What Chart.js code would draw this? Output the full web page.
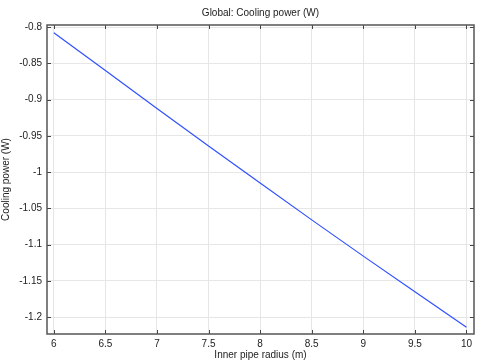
<!DOCTYPE html>
<html>
<head>
<meta charset="utf-8">
<script src="https://cdn.jsdelivr.net/npm/chart.js@4"></script>
<style>
  html, body { margin: 0; padding: 0; background: #fff; }
  #wrap { width: 483px; height: 361px; }
</style>
</head>
<body>
<div id="wrap"><canvas id="myChart" width="483" height="361"></canvas></div>
<script>
// values
var radius = [6, 6.5, 7, 7.5, 8, 8.5, 9, 9.5, 10];
var coolingPower = [-0.808, -0.860, -0.9125, -0.964, -1.015, -1.066, -1.116, -1.165, -1.214];
var xTicks = [6, 6.5, 7, 7.5, 8, 8.5, 9, 9.5, 10];
var yTicks = [-0.8, -0.85, -0.9, -0.95, -1, -1.05, -1.1, -1.15, -1.2];
var chartTitle = "Global: Cooling power (W)";

var fontFamily = "'Liberation Sans', Arial, sans-serif";

function toPoints(xs, ys) {
  return xs.map(function (x, i) {
    return { x: x, y: ys[i] };
  });
}

function fmt(v) {
  return Number(v.toFixed(3)).toString();
}

// frame, inward tick marks and the title over the plot area
var framePlugin = {
  id: "frame",
  afterDraw: function (chart) {
    var ctx = chart.ctx;
    var a = chart.chartArea;
    var xs = chart.scales.x;
    var ys = chart.scales.y;
    ctx.save();
    ctx.strokeStyle = "#444";
    ctx.lineWidth = 1;
    xTicks.forEach(function (t) {
      var px = Math.round(xs.getPixelForValue(t)) + 0.5;
      ctx.beginPath();
      ctx.moveTo(px, a.bottom); ctx.lineTo(px, a.bottom - 4);
      ctx.moveTo(px, a.top); ctx.lineTo(px, a.top + 4);
      ctx.stroke();
    });
    yTicks.forEach(function (t) {
      var py = Math.round(ys.getPixelForValue(t)) + 0.5;
      ctx.beginPath();
      ctx.moveTo(a.left, py); ctx.lineTo(a.left + 4, py);
      ctx.moveTo(a.right, py); ctx.lineTo(a.right - 4, py);
      ctx.stroke();
    });
    ctx.lineWidth = 1.5;
    ctx.strokeStyle = "#555";
    ctx.strokeRect(a.left, a.top, a.right - a.left, a.bottom - a.top);
    ctx.fillStyle = "#222";
    ctx.font = "10px " + fontFamily;
    ctx.textAlign = "center";
    ctx.textBaseline = "middle";
    ctx.fillText(chartTitle, (a.left + a.right) / 2, 13);
    ctx.restore();
  }
};

var ctx = document.getElementById("myChart");
var myChart = new Chart(ctx, {
  type: "line",
  data: {
    datasets: [{
      label: "Cooling power",
      data: toPoints(radius, coolingPower),
      borderColor: "#3050ff",
      borderWidth: 1.2,
      pointRadius: 0,
      fill: false,
      tension: 0
    }]
  },
  options: {
    responsive: false,
    animation: false,
    devicePixelRatio: 1,
    layout: { padding: { left: 0, top: 25, right: 9, bottom: 0 } },
    plugins: {
      legend: { display: false },
      tooltip: { enabled: false }
    },
    scales: {
      x: {
        type: "linear",
        min: 5.934,
        max: 10.073,
        afterBuildTicks: function (scale) {
          scale.ticks = xTicks.map(function (v) { return { value: v }; });
        },
        afterFit: function (scale) { scale.height = 27; },
        grid: { color: "#e6e6e6", drawTicks: false },
        border: { display: false },
        ticks: {
          padding: 4,
          maxRotation: 0,
          autoSkip: false,
          color: "#222",
          font: { family: fontFamily, size: 10 },
          callback: function (v) { return fmt(v); }
        },
        title: {
          display: true,
          text: "Inner pipe radius (m)",
          color: "#222",
          font: { family: fontFamily, size: 10 },
          padding: { top: -3, bottom: 0 }
        }
      },
      y: {
        type: "linear",
        min: -1.2234,
        max: -0.7972,
        afterBuildTicks: function (scale) {
          scale.ticks = yTicks.map(function (v) { return { value: v }; });
        },
        afterFit: function (scale) { scale.width = 47; },
        grid: { color: "#e6e6e6", drawTicks: false },
        border: { display: false },
        ticks: {
          padding: 5,
          autoSkip: false,
          color: "#222",
          font: { family: fontFamily, size: 10 },
          callback: function (v) { return fmt(v); }
        },
        title: {
          display: true,
          text: "Cooling power (W)",
          color: "#222",
          font: { family: fontFamily, size: 10 },
          padding: { top: 0, bottom: 0 }
        }
      }
    }
  },
  plugins: [framePlugin]
});
</script>
</body>
</html>
